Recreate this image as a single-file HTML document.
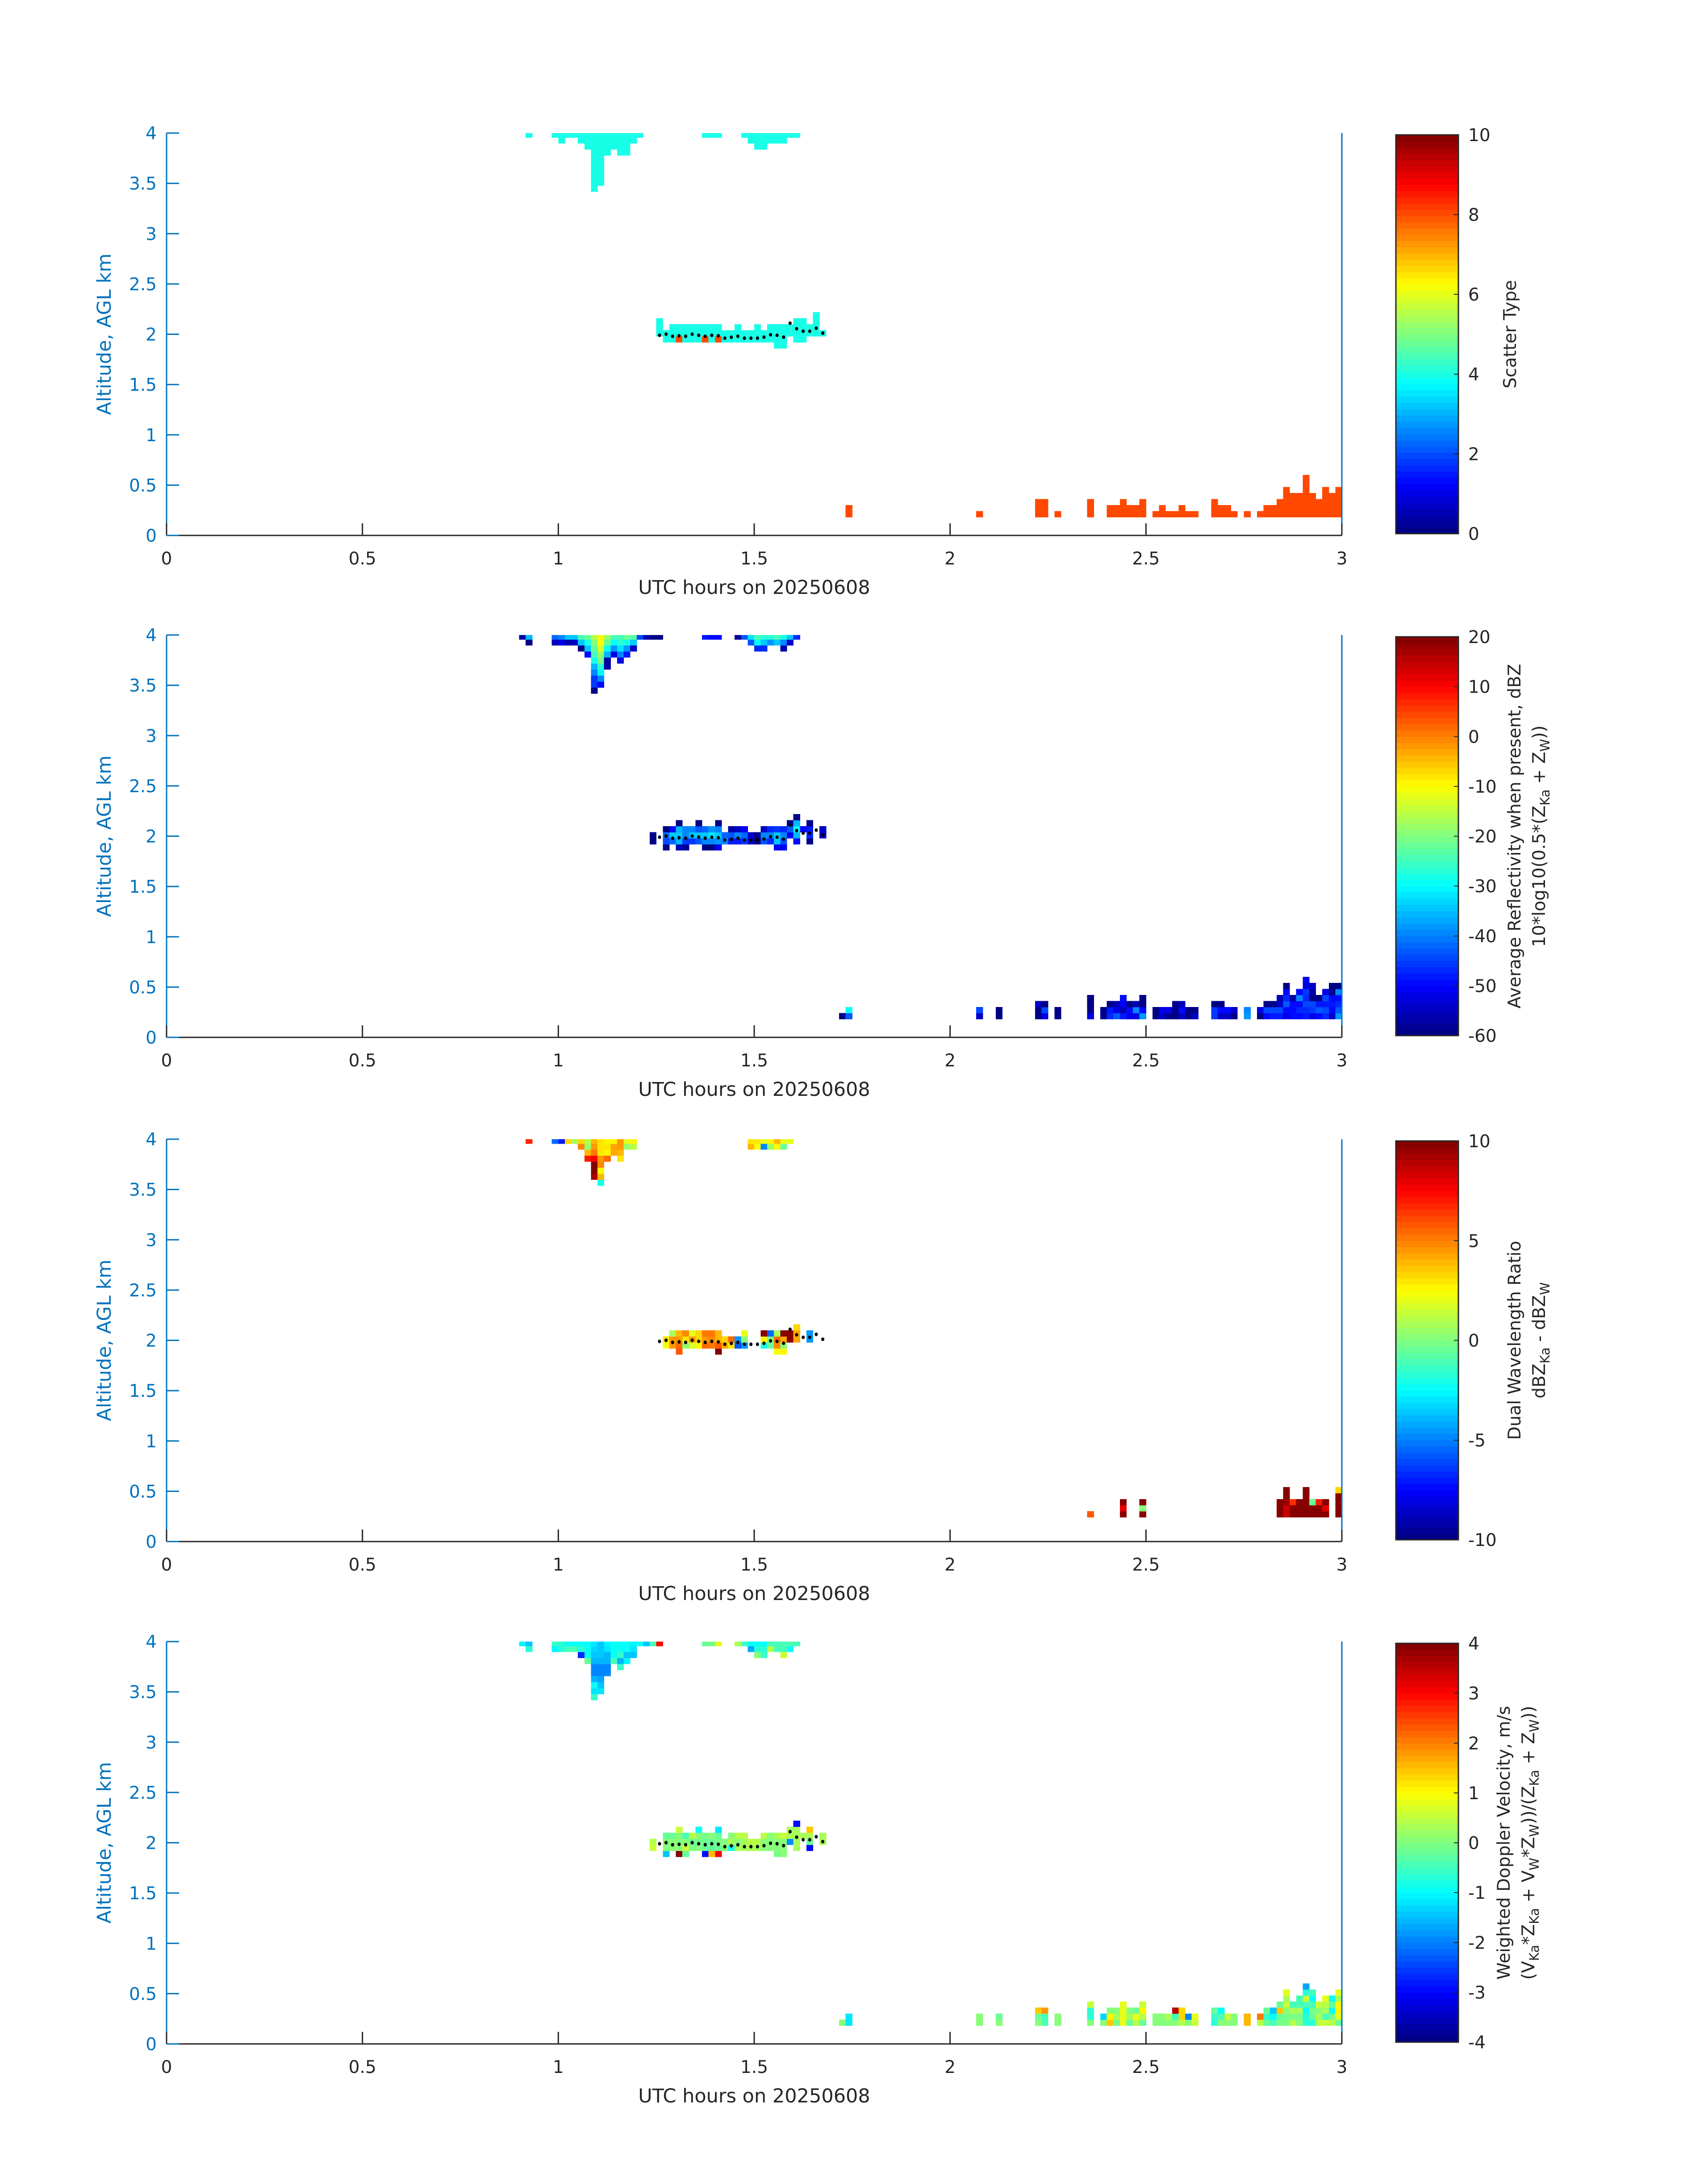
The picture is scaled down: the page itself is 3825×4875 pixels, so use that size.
<!DOCTYPE html>
<html><head><meta charset="utf-8"><title>Radar scatter panels 20250608</title>
<style>html,body{margin:0;padding:0;background:#fff}svg{display:block}text{font-family:"DejaVu Sans","Liberation Sans",sans-serif}</style>
</head><body>
<svg id="fig" xmlns="http://www.w3.org/2000/svg" width="3825" height="4875" viewBox="0 0 3825 4875"></svg>
<script>
// ---------- data ----------
var xTicks = [0, 0.5, 1, 1.5, 2, 2.5, 3];
var yTicks = [0, 0.5, 1, 1.5, 2, 2.5, 3, 3.5, 4];
var yTickLabels = ["0", "0.5", "1", "1.5", "2", "2.5", "3", "3.5", "4"];
var xTickLabels = ["0", "0.5", "1", "1.5", "2", "2.5", "3"];
var binStartKm = 0.183;
var binKm = 0.0599;
var dotMinutes = [75,76,77,78,79,80,81,82,83,84,85,86,87,88,89,90,91,92,93,94,95,96,97,98,99,100];
var dotAltKm = [1.990,2.001,1.980,1.985,1.980,2.001,1.990,1.980,1.990,1.985,1.961,1.970,1.980,1.961,1.961,1.961,1.971,1.995,1.990,1.971,2.110,2.055,2.030,2.030,2.060,2.011];

// panel 1: [minute, bottomRow, topRow, value]
var p1Runs = [
[55,63,63,4],[59,63,63,4],[60,62,63,4],[61,63,63,4],[62,63,63,4],[63,62,63,4],[64,61,63,4],[65,54,63,4],[66,55,63,4],
[67,60,63,4],[68,61,63,4],[69,60,63,4],[70,60,63,4],[71,62,63,4],[72,63,63,4],[82,63,63,4],[83,63,63,4],[84,63,63,4],
[88,63,63,4],[89,62,63,4],[90,61,63,4],[91,61,63,4],[92,62,63,4],[93,62,63,4],[94,62,63,4],[95,63,63,4],[96,63,63,4],
[75,30,32,4],[76,29,30,4],[77,29,31,4],[78,30,31,4],[78,29,29,8],[79,29,31,4],[80,29,31,4],[81,29,31,4],[82,30,31,4],[82,29,29,8],
[83,29,31,4],[84,30,31,4],[84,29,29,8],[85,29,30,4],[86,29,30,4],[87,29,31,4],[88,29,30,4],[89,29,30,4],[90,29,31,4],[91,29,30,4],
[92,29,31,4],[93,28,31,4],[94,28,31,4],[95,30,31,4],[96,29,32,4],[97,29,32,4],[98,30,31,4],[99,30,33,4],[100,30,30,4],
[104,0,1,8],[124,0,0,8],[133,0,2,8],[134,0,2,8],[136,0,0,8],[141,0,2,8],[144,0,1,8],[145,0,1,8],[146,0,2,8],[147,0,1,8],[148,0,1,8],
[149,0,2,8],[151,0,0,8],[152,0,1,8],[153,0,0,8],[154,0,0,8],[155,0,1,8],[156,0,0,8],[157,0,0,8],[160,0,2,8],[161,0,1,8],[162,0,1,8],
[163,0,0,8],[165,0,0,8],[167,0,0,8],[168,0,1,8],[169,0,1,8],[170,0,2,8],[171,0,4,8],[172,0,3,8],[173,0,3,8],[174,0,6,8],[175,0,3,8],
[176,0,2,8],[177,0,4,8],[178,0,3,8],[179,0,4,8]
];
// panels 2-4: [minute, bottomRow, values upward]
var p2Cols = [
[54,63,[-57]],[55,62,[-59,-36]],[59,62,[-56,-42]],[60,62,[-52,-39]],[61,62,[-57,-34]],[62,62,[-55,-34]],[63,61,[-59,-34,-25]],
[64,60,[-49,-35,-28,-22]],[65,54,[-60,-46,-46,-40,-36,-28,-25,-22,-19,-16]],[66,55,[-49,-39,-31,-27,-21,-18,-13,-11,-9]],
[67,58,[-57,-57,-36,-30,-22,-18]],[68,60,[-52,-38,-30,-25]],[69,59,[-52,-40,-32,-27,-25]],[70,60,[-48,-38,-28,-22]],[71,61,[-54,-34,-23]],
[72,63,[-45]],[73,63,[-56]],[74,63,[-59]],[75,63,[-59]],[82,63,[-48]],[83,63,[-50]],[84,63,[-50]],[87,63,[-58]],[88,63,[-43]],
[89,62,[-43,-32]],[90,61,[-47,-30,-25]],[91,61,[-47,-34,-27]],[92,62,[-38,-27]],[93,62,[-35,-24]],[94,61,[-57,-39,-28]],[95,62,[-54,-34]],[96,63,[-47]],
[74,29,[-59,-59]],[76,28,[-59,-45,-42,-59]],[77,29,[-42,-34,-49]],[78,28,[-56,-36,-34,-36,-59]],[79,28,[-58,-46,-39,-40]],[80,29,[-46,-34,-40]],
[81,29,[-43,-34,-43,-59]],[82,28,[-59,-39,-35,-42]],[83,28,[-59,-39,-32,-38]],[84,28,[-51,-38,-34,-40,-59]],[85,29,[-40,-42]],[86,29,[-48,-43,-57]],
[87,29,[-48,-40,-54]],[88,29,[-46,-42,-51]],[89,29,[-55,-55]],[90,29,[-59,-59]],[91,29,[-43,-39,-55]],[92,29,[-47,-39,-47]],[93,28,[-51,-35,-35,-46]],
[94,28,[-51,-45,-39,-47]],[95,30,[-51,-43,-59]],[96,29,[-50,-36,-29,-36,-59]],[97,31,[-49]],[98,29,[-59,-47,-48,-59]],[100,30,[-55,-55]],
[103,0,[-59]],[104,0,[-43,-29]],[124,0,[-54,-45]],[127,0,[-59,-59]],[133,0,[-59,-59,-55]],[134,0,[-52,-45,-59]],[136,0,[-59,-59]],
[141,0,[-52,-59,-59,-59]],[143,0,[-59,-59]],[144,0,[-47,-48,-59]],[145,0,[-43,-52,-56]],[146,0,[-48,-56,-51,-50]],[147,0,[-52,-49,-59]],
[148,0,[-52,-40,-56]],[149,0,[-38,-50,-59,-59]],[151,0,[-59,-59]],[152,0,[-55,-52]],[153,0,[-59,-52]],[154,0,[-59,-59,-59]],[155,0,[-55,-49,-56]],
[156,0,[-59,-59]],[157,0,[-55,-59]],[160,0,[-46,-46,-59]],[161,0,[-54,-50,-59]],[162,0,[-55,-49]],[163,0,[-59,-54]],[165,0,[-38,-40]],
[167,0,[-59,-52]],[168,0,[-50,-45,-59]],[169,0,[-48,-45,-59]],[170,0,[-48,-45,-54,-56]],[171,0,[-52,-49,-43,-47,-50,-59]],[172,0,[-50,-49,-49,-57]],
[173,0,[-49,-47,-50,-39,-49]],[174,0,[-48,-47,-45,-47,-46,-52,-51]],[175,0,[-52,-46,-45,-59,-57,-55]],[176,0,[-49,-43,-48,-59]],
[177,0,[-47,-45,-48,-45,-52]],[178,0,[-54,-50,-48,-50,-59,-59]],[179,0,[-38,-43,-47,-49,-39,-59]]
];
var p3Cols = [
[55,63,[6.6]],[59,63,[-5.6]],[60,63,[-6.9]],[61,63,[3.4]],[62,63,[0.9]],[63,62,[4.7,3.4]],[64,60,[6.9,3.8,0.6,1.2]],
[65,57,[9.1,10,10,7.8,5.3,4.4,3.8]],[66,56,[-1.9,3.8,2.8,4.7,4.4,3.1,3.1,3.1]],[67,60,[5.6,2.5,3.1,2.5]],[68,61,[4.1,4.1,2.5]],
[69,60,[3.1,3.8,4.4,4.4]],[70,62,[0.6,1.9]],[71,62,[1.2,2.5]],[89,62,[3.8,3.1]],[90,62,[2.2,2.9]],[91,62,[-5,1.9]],[92,62,[0.6,2.5]],
[93,62,[2.5,3.8]],[94,62,[-0.6,1.9]],[95,63,[1.9]],
[76,29,[2.2,3.1]],[77,29,[4.4,4.4,0.9]],[78,28,[5.9,5.6,4.4,3.8]],[79,29,[0.6,2.9,4.7]],[80,29,[1.6,4.4,1.9]],[81,29,[2.8,3.4,3.4]],
[82,29,[5.6,4.4,5.0]],[83,29,[5.0,4.7,5.3]],[84,28,[10,5.9,3.8,3.8]],[85,29,[4.1,3.4]],[86,29,[2.9,5.6]],[87,29,[-5.9,-4.4]],
[88,29,[-4.4,0.3,1.9]],[91,29,[-1.9,2.5,10]],[92,29,[-0.6,-0.3,-5.6]],[93,28,[2.2,4.7,5.6,0.9]],[94,28,[2.8,0.3,4.1,9.7]],
[95,30,[10,10]],[96,30,[4.1,4.1,3.3]],[98,30,[-4.4,-4.4]],
[141,1,[5.9]],[146,1,[10,8,10]],[149,1,[10,0.3,9.7]],[170,1,[10,10,10]],[171,1,[8.7,8.7,9.4,10,10]],[172,1,[10,10,6.6]],
[173,1,[10,10,10]],[174,1,[10,10,10,10,10]],[175,1,[10,10,-0.6]],[176,1,[10,10,6.9]],[177,1,[10,8.0,10]],[179,1,[10,10,10,10,3.4]]
];
var p4Cols = [
[54,63,[-1.1]],[55,62,[-0.75,-1.4]],[59,62,[-1.1,-0.6]],[60,62,[-0.75,-0.75]],[61,62,[-0.4,-1]],[62,62,[-0.5,-0.9]],[63,61,[-2.75,-0.75,-1]],
[64,60,[-0.25,-1,-1,-1]],[65,54,[-0.6,-1.2,-0.9,-1.6,-1.9,-1.9,-1.6,-1.5,-1.3,-1.2]],[66,55,[-1.2,-1.4,-1.75,-2,-2,-1.6,-1.5,-1.4,-1.4]],
[67,58,[-2,-1.9,-1.6,-1.6,-1.2,-1.1]],[68,60,[-0.5,-1,-0.9,-0.9]],[69,59,[-0.6,-1.6,-0.6,-0.9,-1]],[70,60,[-1.1,-1.4,-1,-0.9]],
[71,61,[-1.4,-1.2,-1.1]],[72,63,[-0.9]],[73,63,[-1.5]],[74,63,[-0.5]],[75,63,[2.9]],[82,63,[-0.25]],[83,63,[-0.1]],[84,63,[0.75]],
[87,63,[0.25]],[88,63,[-0.6]],[89,62,[-1.75,-1]],[90,61,[0,-0.75,-1]],[91,61,[-0.6,-0.75,-0.9]],[92,62,[0.4,-0.5]],[93,62,[-0.4,-0.5]],
[94,61,[0.5,-0.4,-0.5]],[95,62,[-1,-0.5]],[96,63,[-0.4]],
[74,29,[0.5,0.4]],[76,28,[-1.4,0,0,-0.25]],[77,29,[0,0,-0.25]],[78,28,[4,0,0,0,0.5]],[79,28,[-0.25,0.5,0,-0.4]],[80,29,[-0.1,-0.25,0.4]],
[81,29,[0,-0.1,0.1,-0.9]],[82,28,[-3,-0.25,-0.25,-0.1]],[83,28,[1.6,-0.25,-0.25,0.1]],[84,28,[3,-0.25,-0.1,-0.25,-1.2]],[85,29,[0,0.1]],
[86,29,[-1,0.25,0]],[87,29,[0.25,0,0.4]],[88,29,[0.25,0.25,0.4]],[89,29,[0.25,0.4]],[90,29,[0.25,0.4]],[91,29,[0.1,0.1,0.4]],
[92,29,[0.1,0.1,0.1]],[93,28,[-0.1,0,0,0.25]],[94,28,[0,0,0,0.5]],[95,30,[-1.9,0.25,0.25]],[96,29,[0.25,0.25,0.25,0.25,-3]],
[97,31,[0.25]],[98,29,[-3,-0.25,0.25,1.4]],[100,30,[0.25,0.25]],
[103,0,[0]],[104,0,[-1.2,-1.2]],[124,0,[0.1,0.1]],[127,0,[0,-0.25]],[133,0,[0.1,-0.25,1.4]],[134,0,[-0.4,-0.4,1.75]],[136,0,[0,0]],
[141,0,[0,-0.75,-0.75,0.5]],[143,0,[0,-1.3]],[144,0,[1.4,1.1,0.1]],[145,0,[-0.1,0.25,0.1]],[146,0,[0.75,0.75,0.75,0.75]],
[147,0,[-0.25,0.25,0.1]],[148,0,[0.4,0.75,-0.25]],[149,0,[-0.25,0.4,1.1,0.6]],[151,0,[0,0]],[152,0,[0,0]],[153,0,[0,0.25]],
[154,0,[0,-0.6,3.6]],[155,0,[0.4,1.3,1.3]],[156,0,[0,-2]],[157,0,[0.5,0.75]],[160,0,[-0.75,-0.6,-0.25]],[161,0,[0,-0.5,-0.9]],
[162,0,[0.1,0.6]],[163,0,[0,0]],[165,0,[1.6,1.6]],[167,0,[0.4,2]],[168,0,[-0.25,-0.6,-0.25]],[169,0,[-0.5,-0.9,-1.5]],
[170,0,[-0.1,-0.25,1.4,-0.25]],[171,0,[-0.1,-0.1,0.1,0.5,0.25,0.75]],[172,0,[0.4,-0.1,0.25,-0.4]],[173,0,[0.1,-0.1,0.25,-0.4,-0.4]],
[174,0,[-0.75,-0.75,-0.9,-0.4,0.5,-0.75,-1.75]],[175,0,[-0.75,-0.25,-0.1,-0.5,-1,-0.5]],[176,0,[0.4,0.25,0.1,0.5]],
[177,0,[0.5,-0.5,0.25,0.4,0.75]],[178,0,[0.4,-0.1,-1,-0.25,-0.9]],[179,0,[-0.25,0.75,1.1,1.1,0.25,0.75]]
];
var p1CbTicks = [0,2,4,6,8,10];
var p2CbTicks = [-60,-50,-40,-30,-20,-10,0,10,20];
var p3CbTicks = [-10,-5,0,5,10];
var p4CbTicks = [-4,-3,-2,-1,0,1,2,3,4];

// ---------- drawing ----------
var NS = "http://www.w3.org/2000/svg";
var svg = document.getElementById("fig");
var L = 373, R = 3005, PH = 901;
var tops = [298, 1422, 2551, 3676];
var CBX = 3126, CBW = 140;
var BLUE = "#0072BD", DARK = "#262626";
function el(tag, attrs, parent) {
  var e = document.createElementNS(NS, tag);
  for (var k in attrs) e.setAttribute(k, attrs[k]);
  (parent || svg).appendChild(e);
  return e;
}
function xOf(h) { return L + h / 3 * (R - L); }
function yOf(top, km) { return top + PH - km / 4 * PH; }
function jet(t) {
  var i = Math.max(0, Math.min(63, Math.floor(t * 64)));
  var x = (i + 0.5) / 64;
  function c(v) { return Math.round(255 * Math.max(0, Math.min(1, v))); }
  return "rgb(" + c(1.5 - Math.abs(4 * x - 3)) + "," + c(1.5 - Math.abs(4 * x - 2)) + "," + c(1.5 - Math.abs(4 * x - 1)) + ")";
}
function drawCell(g, top, minute, row, val, vmin, vmax) {
  var lo = binStartKm + row * binKm, hi = Math.min(4, lo + binKm);
  var x0 = xOf(minute / 60), x1 = xOf((minute + 1) / 60);
  var r = el("rect", {x: x0.toFixed(2), y: yOf(top, hi).toFixed(2), width: (x1 - x0 + 0.5).toFixed(2), height: (yOf(top, lo) - yOf(top, hi) + 0.5).toFixed(2), fill: jet((val - vmin) / (vmax - vmin))}, g);
  
  
}

var panels = [
  {cb: p1CbTicks, min: 0, max: 10, labels: [[["Scatter Type"]]], lx: [3395]},
  {cb: p2CbTicks, min: -60, max: 20, labels: [[["Average Reflectivity when present, dBZ"]], [["10*log10(0.5*(Z"],["Ka",1],[" + Z"],["W",1],["))"]]], lx: [3405, 3460]},
  {cb: p3CbTicks, min: -10, max: 10, labels: [[["Dual Wavelength Ratio"]], [["dBZ"],["Ka",1],[" - dBZ"],["W",1]]], lx: [3405, 3460]},
  {cb: p4CbTicks, min: -4, max: 4, labels: [[["Weighted Doppler Velocity, m/s"]], [["(V"],["Ka",1],["*Z"],["Ka",1],[" + V"],["W",1],["*Z"],["W",1],["))/(Z"],["Ka",1],[" + Z"],["W",1],["))"]]], lx: [3381, 3436]}
];
var cellSets = [null, p2Cols, p3Cols, p4Cols];
var panelNames = ['scatter-type-panel', 'reflectivity-panel', 'dual-wavelength-ratio-panel', 'doppler-velocity-panel'];

panels.forEach(function (p, pi) {
  var top = tops[pi], bot = top + PH;
  var g = el("g", {});
  
  
  var cells = el("g", {"shape-rendering": "crispEdges"}, g);
  
  
  if (pi === 0) {
    p1Runs.forEach(function (r) {
      for (var k = r[1]; k <= r[2]; k++) drawCell(cells, top, r[0], k, r[3], p.min, p.max);
    });
  } else {
    cellSets[pi].forEach(function (c) {
      c[2].forEach(function (v, j) { if (v !== null) drawCell(cells, top, c[0], c[1] + j, v, p.min, p.max); });
    });
  }
  // cloud-base dots
  var dg = el("g", {}, g);
  
  
  dotMinutes.forEach(function (m, i) {
    var d = el("ellipse", {cx: xOf((m + 0.5) / 60).toFixed(1), cy: yOf(top, dotAltKm[i]).toFixed(1), rx: 3.6, ry: 4, fill: "#000"}, dg);
    
    
  });
  // axes
  var ax = el("g", {}, g);
  
  
  var bl = el("line", {x1: L, y1: bot, x2: R, y2: bot, stroke: DARK, "stroke-width": 3}, ax);
  
  
  var ll = el("line", {x1: L, y1: top, x2: L, y2: bot, stroke: BLUE, "stroke-width": 3}, ax);
  
  
  var rl = el("line", {x1: R, y1: top, x2: R, y2: bot, stroke: BLUE, "stroke-width": 3}, ax);
  
  
  xTicks.forEach(function (t, i) {
    var x = xOf(t);
    var tk = el("line", {x1: x, y1: bot, x2: x, y2: bot - 27, stroke: DARK, "stroke-width": 3}, ax);
    
    
    var tl = el("text", {x: x, y: bot + 65, "font-size": 39, fill: DARK, "text-anchor": "middle"}, ax);
    tl.textContent = xTickLabels[i];
    
    
  });
  yTicks.forEach(function (t, i) {
    var y = yOf(top, t);
    var tk = el("line", {x1: L, y1: y, x2: L + 28, y2: y, stroke: BLUE, "stroke-width": 3}, ax);
    
    
    var tl = el("text", {x: 351, y: y + 14, "font-size": 39, fill: BLUE, "text-anchor": "end"}, ax);
    tl.textContent = yTickLabels[i];
    
    
  });
  var xt = el("text", {x: (L + R) / 2, y: bot + 131, "font-size": 43, fill: DARK, "text-anchor": "middle"}, ax);
  xt.textContent = "UTC hours on 20250608";
  
  
  var cy = top + PH / 2;
  var yt = el("text", {x: 0, y: 0, "font-size": 43, fill: BLUE, "text-anchor": "middle", transform: "translate(248," + cy + ") rotate(-90)"}, ax);
  yt.textContent = "Altitude, AGL km";
  
  
  // colorbar
  var cb = el("g", {"shape-rendering": "crispEdges"}, g);
  
  
  var cbTop = top + 4, cbH = PH - 8;
  for (var i = 0; i < 64; i++) {
    var y1 = cbTop + cbH - (i + 1) * cbH / 64;
    var s = el("rect", {x: CBX, y: y1.toFixed(2), width: CBW, height: (cbH / 64 + 0.6).toFixed(2), fill: jet((i + 0.5) / 64)}, cb);
    
    
  }
  var fr = el("rect", {x: CBX, y: cbTop, width: CBW, height: cbH, fill: "none", stroke: DARK, "stroke-width": 3}, cb);
  
  
  p.cb.forEach(function (v) {
    var y = cbTop + cbH - (v - p.min) / (p.max - p.min) * cbH;
    var tk = el("line", {x1: CBX + CBW - 10, y1: y, x2: CBX + CBW, y2: y, stroke: DARK, "stroke-width": 2}, cb);
    
    
    var tl = el("text", {x: 3288, y: y + 14, "font-size": 39, fill: DARK}, cb);
    tl.textContent = String(v);
    
    
  });
  p.labels.forEach(function (parts, li) {
    var t = el("text", {x: 0, y: 0, "font-size": 39, fill: DARK, "text-anchor": "middle", transform: "translate(" + p.lx[li] + "," + cy + ") rotate(-90)"}, cb);
    
    
    parts.forEach(function (pt) {
      var ts = el("tspan", {}, t);
      ts.textContent = pt[0];
      if (pt[1]) { ts.setAttribute("font-size", 29); ts.setAttribute("dy", 10); }
      else if (t.childNodes.length > 1 && parts[parts.indexOf(pt) - 1][1]) { ts.setAttribute("dy", -10); }
    });
  });
});
</script>
</body></html>
